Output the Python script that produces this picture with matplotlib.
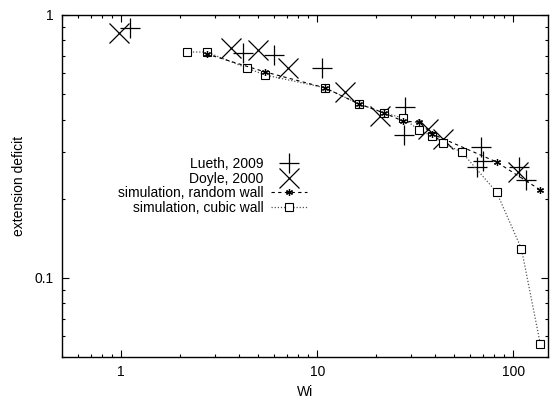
import matplotlib.pyplot as plt
import numpy as np

plt.rcParams['font.family'] = ['Liberation Sans', 'DejaVu Sans']

# Lueth, 2009
lueth_wi = [1.11, 4.16, 6.05, 10.6, 28.0, 27.7, 68.0, 70.0, 65.0, 107.0, 116.0]
lueth_ext = [0.893, 0.717, 0.705, 0.629, 0.447, 0.350, 0.315, 0.279, 0.264, 0.264, 0.236]

# Doyle, 2000
doyle_wi = [0.98, 3.62, 4.96, 7.13, 13.9, 20.9, 36.5, 43.6, 106.0]
doyle_ext = [0.854, 0.748, 0.736, 0.629, 0.509, 0.413, 0.370, 0.337, 0.253]

# simulation, random wall
rand_wi = [2.73, 5.44, 10.9, 16.3, 21.9, 27.3, 33.0, 38.4, 82.0, 137.0]
rand_ext = [0.711, 0.607, 0.529, 0.459, 0.424, 0.395, 0.391, 0.353, 0.276, 0.216]

# simulation, cubic wall
cubic_wi = [2.16, 2.73, 4.36, 5.44, 10.9, 16.3, 21.9, 27.3, 33.0, 38.4, 43.6, 54.5, 82.0, 109.8, 137.0]
cubic_ext = [0.723, 0.723, 0.629, 0.591, 0.529, 0.459, 0.424, 0.406, 0.365, 0.347, 0.326, 0.301, 0.212, 0.129, 0.0561]

fig = plt.figure(figsize=(5.5, 4.01), dpi=100)
ax = fig.add_axes([0.1127, 0.1097, 0.8837, 0.8529])

ax.plot(lueth_wi, lueth_ext, ls='none', marker='+', ms=14, mew=0.9, color='black',
        label='Lueth, 2009', zorder=3)
ax.plot(doyle_wi, doyle_ext, ls='none', marker='x', ms=15, mew=0.9, color='black',
        label='Doyle, 2000', zorder=3)
ax.plot(rand_wi, rand_ext, ls=(0, (3, 3)), lw=0.8, color='black', marker=(6, 2, 0),
        ms=5, mew=0.9, label='simulation, random wall', zorder=5)
ax.plot(cubic_wi, cubic_ext, ls=(0, (1, 1.5)), lw=0.9, color='#555555', marker='s',
        ms=5.5, mfc='white', mec='black', mew=0.8, label='simulation, cubic wall', zorder=4)

ax.set_xscale('log')
ax.set_yscale('log')
ax.set_xlim(0.5, 150)
ax.set_ylim(0.05, 1)

ax.set_xticks([1, 10, 100])
ax.set_xticklabels(['1', '10', '100'])
ax.set_yticks([0.1, 1])
ax.set_yticklabels(['0.1', '1'])
ax.tick_params(which='both', direction='in', top=True, right=True, labelsize=10)
ax.tick_params(which='major', length=5, width=0.8, pad=6)
ax.tick_params(which='minor', length=2.5, width=0.8)

for s in ax.spines.values():
    s.set_linewidth(1.0)

ax.set_xlabel('Wi', fontsize=10, labelpad=4)
ax.set_ylabel('extension deficit', fontsize=10, labelpad=6)

ax.legend(loc='center right', bbox_to_anchor=(0.515, 0.5), frameon=False,
          markerfirst=False, fontsize=10, labelspacing=0.05, handlelength=2.6,
          handletextpad=0.5, borderaxespad=0, markerscale=1.0)

fig.savefig('out.png', dpi=100)
